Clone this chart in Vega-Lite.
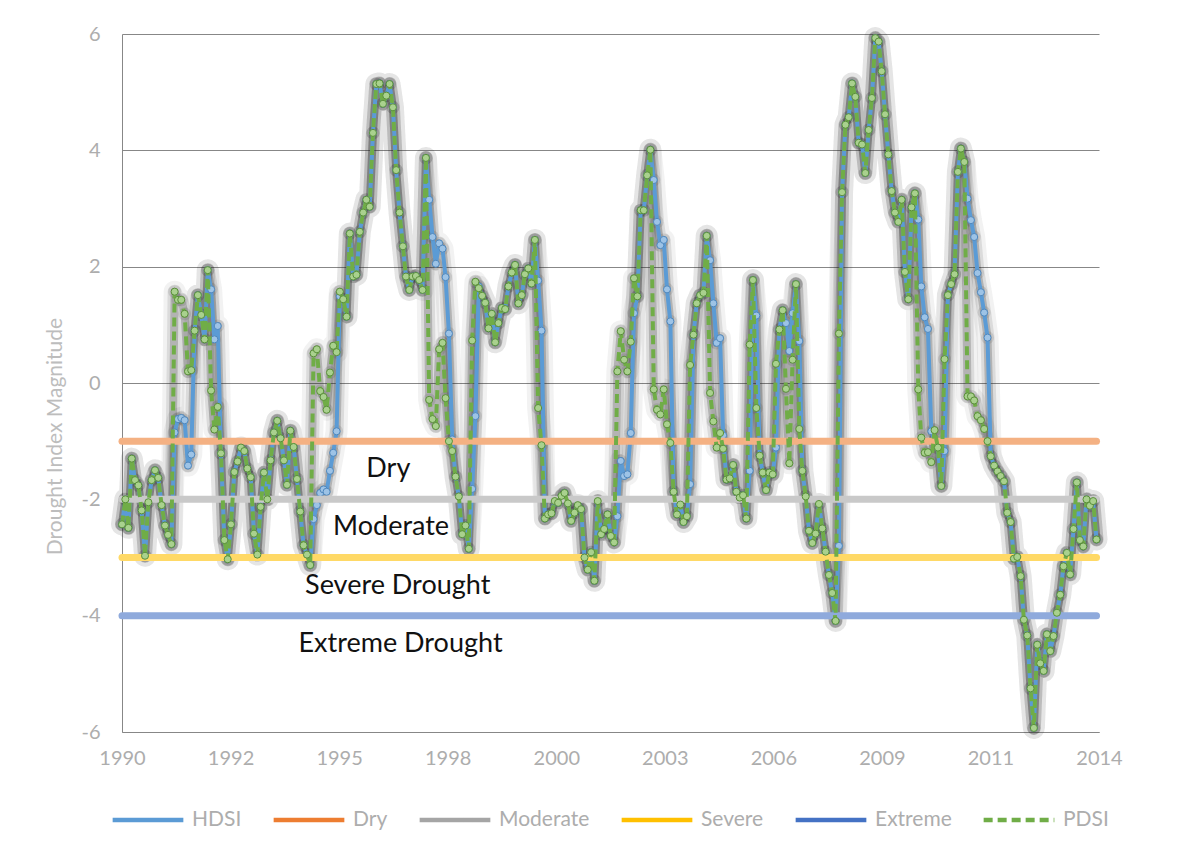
{
"$schema":"https://vega.github.io/schema/vega-lite/v6.json",
"width":977,"height":698,
"autosize":{"type":"none"},
"padding":{"left":122,"top":34,"right":86,"bottom":120},
"background":"white",
"config":{"font":"Lato","view":{"stroke":null}},
"datasets":{
"main":[
{"date":"1990-01-01T00:00","HDSI":-2.43,"PDSI":-2.43},{"date":"1990-02-01T00:00","HDSI":-2.00,"PDSI":-2.00},{"date":"1990-03-01T00:00","HDSI":-2.49,"PDSI":-2.49},{"date":"1990-04-01T00:00","HDSI":-1.30,"PDSI":-1.30},{"date":"1990-05-01T00:00","HDSI":-1.67,"PDSI":-1.67},{"date":"1990-06-01T00:00","HDSI":-1.76,"PDSI":-1.76},{"date":"1990-07-01T00:00","HDSI":-2.19,"PDSI":-2.19},{"date":"1990-08-01T00:00","HDSI":-2.97,"PDSI":-2.97},{"date":"1990-09-01T00:00","HDSI":-2.05,"PDSI":-2.05},{"date":"1990-10-01T00:00","HDSI":-1.67,"PDSI":-1.67},{"date":"1990-11-01T00:00","HDSI":-1.50,"PDSI":-1.50},{"date":"1990-12-01T00:00","HDSI":-1.63,"PDSI":-1.63},
{"date":"1991-01-01T00:00","HDSI":-2.10,"PDSI":-2.10},{"date":"1991-02-01T00:00","HDSI":-2.45,"PDSI":-2.45},{"date":"1991-03-01T00:00","HDSI":-2.61,"PDSI":-2.61},{"date":"1991-04-01T00:00","HDSI":-2.77,"PDSI":-2.77},{"date":"1991-05-01T00:00","HDSI":-0.85,"PDSI":1.57},{"date":"1991-06-01T00:00","HDSI":-0.62,"PDSI":1.43},{"date":"1991-07-01T00:00","HDSI":-0.60,"PDSI":1.43},{"date":"1991-08-01T00:00","HDSI":-0.64,"PDSI":1.19},{"date":"1991-09-01T00:00","HDSI":-1.42,"PDSI":0.20},{"date":"1991-10-01T00:00","HDSI":-1.23,"PDSI":0.22},{"date":"1991-11-01T00:00","HDSI":0.90,"PDSI":0.90},{"date":"1991-12-01T00:00","HDSI":1.51,"PDSI":1.51},
{"date":"1992-01-01T00:00","HDSI":1.17,"PDSI":1.17},{"date":"1992-02-01T00:00","HDSI":0.75,"PDSI":0.75},{"date":"1992-03-01T00:00","HDSI":1.94,"PDSI":1.94},{"date":"1992-04-01T00:00","HDSI":1.61,"PDSI":-0.13},{"date":"1992-05-01T00:00","HDSI":0.75,"PDSI":-0.80},{"date":"1992-06-01T00:00","HDSI":0.98,"PDSI":-0.41},{"date":"1992-07-01T00:00","HDSI":-1.21,"PDSI":-1.21},{"date":"1992-08-01T00:00","HDSI":-2.70,"PDSI":-2.70},{"date":"1992-09-01T00:00","HDSI":-3.03,"PDSI":-3.03},{"date":"1992-10-01T00:00","HDSI":-2.43,"PDSI":-2.43},{"date":"1992-11-01T00:00","HDSI":-1.53,"PDSI":-1.53},{"date":"1992-12-01T00:00","HDSI":-1.35,"PDSI":-1.35},
{"date":"1993-01-01T00:00","HDSI":-1.11,"PDSI":-1.11},{"date":"1993-02-01T00:00","HDSI":-1.17,"PDSI":-1.17},{"date":"1993-03-01T00:00","HDSI":-1.47,"PDSI":-1.47},{"date":"1993-04-01T00:00","HDSI":-1.62,"PDSI":-1.62},{"date":"1993-05-01T00:00","HDSI":-2.59,"PDSI":-2.59},{"date":"1993-06-01T00:00","HDSI":-2.95,"PDSI":-2.95},{"date":"1993-07-01T00:00","HDSI":-2.13,"PDSI":-2.13},{"date":"1993-08-01T00:00","HDSI":-1.54,"PDSI":-1.54},{"date":"1993-09-01T00:00","HDSI":-2.00,"PDSI":-2.00},{"date":"1993-10-01T00:00","HDSI":-1.33,"PDSI":-1.33},{"date":"1993-11-01T00:00","HDSI":-0.85,"PDSI":-0.85},{"date":"1993-12-01T00:00","HDSI":-0.65,"PDSI":-0.65},
{"date":"1994-01-01T00:00","HDSI":-0.95,"PDSI":-0.95},{"date":"1994-02-01T00:00","HDSI":-1.33,"PDSI":-1.33},{"date":"1994-03-01T00:00","HDSI":-1.75,"PDSI":-1.75},{"date":"1994-04-01T00:00","HDSI":-0.82,"PDSI":-0.82},{"date":"1994-05-01T00:00","HDSI":-1.10,"PDSI":-1.10},{"date":"1994-06-01T00:00","HDSI":-1.65,"PDSI":-1.65},{"date":"1994-07-01T00:00","HDSI":-2.21,"PDSI":-2.21},{"date":"1994-08-01T00:00","HDSI":-2.79,"PDSI":-2.79},{"date":"1994-09-01T00:00","HDSI":-2.95,"PDSI":-2.95},{"date":"1994-10-01T00:00","HDSI":-3.13,"PDSI":-3.13},{"date":"1994-11-01T00:00","HDSI":-2.34,"PDSI":0.51},{"date":"1994-12-01T00:00","HDSI":-2.10,"PDSI":0.58},
{"date":"1995-01-01T00:00","HDSI":-1.89,"PDSI":-0.14},{"date":"1995-02-01T00:00","HDSI":-1.83,"PDSI":-0.24},{"date":"1995-03-01T00:00","HDSI":-1.87,"PDSI":-0.46},{"date":"1995-04-01T00:00","HDSI":-1.51,"PDSI":0.18},{"date":"1995-05-01T00:00","HDSI":-1.20,"PDSI":0.64},{"date":"1995-06-01T00:00","HDSI":-0.83,"PDSI":0.53},{"date":"1995-07-01T00:00","HDSI":1.49,"PDSI":1.57},{"date":"1995-08-01T00:00","HDSI":1.44,"PDSI":1.44},{"date":"1995-09-01T00:00","HDSI":1.14,"PDSI":1.14},{"date":"1995-10-01T00:00","HDSI":2.57,"PDSI":2.57},{"date":"1995-11-01T00:00","HDSI":1.83,"PDSI":1.83},{"date":"1995-12-01T00:00","HDSI":1.86,"PDSI":1.86},
{"date":"1996-01-01T00:00","HDSI":2.60,"PDSI":2.60},{"date":"1996-02-01T00:00","HDSI":2.93,"PDSI":2.93},{"date":"1996-03-01T00:00","HDSI":3.15,"PDSI":3.15},{"date":"1996-04-01T00:00","HDSI":3.03,"PDSI":3.03},{"date":"1996-05-01T00:00","HDSI":4.30,"PDSI":4.30},{"date":"1996-06-01T00:00","HDSI":5.14,"PDSI":5.14},{"date":"1996-07-01T00:00","HDSI":5.15,"PDSI":5.15},{"date":"1996-08-01T00:00","HDSI":4.80,"PDSI":4.80},{"date":"1996-09-01T00:00","HDSI":4.94,"PDSI":4.94},{"date":"1996-10-01T00:00","HDSI":5.14,"PDSI":5.14},{"date":"1996-11-01T00:00","HDSI":4.74,"PDSI":4.74},{"date":"1996-12-01T00:00","HDSI":3.66,"PDSI":3.66},
{"date":"1997-01-01T00:00","HDSI":2.93,"PDSI":2.93},{"date":"1997-02-01T00:00","HDSI":2.35,"PDSI":2.35},{"date":"1997-03-01T00:00","HDSI":1.83,"PDSI":1.83},{"date":"1997-04-01T00:00","HDSI":1.60,"PDSI":1.60},{"date":"1997-05-01T00:00","HDSI":1.83,"PDSI":1.83},{"date":"1997-06-01T00:00","HDSI":1.84,"PDSI":1.84},{"date":"1997-07-01T00:00","HDSI":1.77,"PDSI":1.77},{"date":"1997-08-01T00:00","HDSI":1.60,"PDSI":1.60},{"date":"1997-09-01T00:00","HDSI":3.87,"PDSI":3.87},{"date":"1997-10-01T00:00","HDSI":3.15,"PDSI":-0.29},{"date":"1997-11-01T00:00","HDSI":2.51,"PDSI":-0.62},{"date":"1997-12-01T00:00","HDSI":2.05,"PDSI":-0.74},
{"date":"1998-01-01T00:00","HDSI":2.40,"PDSI":0.58},{"date":"1998-02-01T00:00","HDSI":2.31,"PDSI":0.69},{"date":"1998-03-01T00:00","HDSI":1.82,"PDSI":-0.26},{"date":"1998-04-01T00:00","HDSI":0.85,"PDSI":-1.00},{"date":"1998-05-01T00:00","HDSI":-0.97,"PDSI":-1.17},{"date":"1998-06-01T00:00","HDSI":-1.61,"PDSI":-1.61},{"date":"1998-07-01T00:00","HDSI":-1.95,"PDSI":-1.95},{"date":"1998-08-01T00:00","HDSI":-2.60,"PDSI":-2.60},{"date":"1998-09-01T00:00","HDSI":-2.45,"PDSI":-2.45},{"date":"1998-10-01T00:00","HDSI":-2.85,"PDSI":-2.85},{"date":"1998-11-01T00:00","HDSI":-1.82,"PDSI":0.73},{"date":"1998-12-01T00:00","HDSI":-0.57,"PDSI":1.74},
{"date":"1999-01-01T00:00","HDSI":1.66,"PDSI":1.63},{"date":"1999-02-01T00:00","HDSI":1.50,"PDSI":1.50},{"date":"1999-03-01T00:00","HDSI":1.38,"PDSI":1.38},{"date":"1999-04-01T00:00","HDSI":0.94,"PDSI":0.94},{"date":"1999-05-01T00:00","HDSI":1.19,"PDSI":1.19},{"date":"1999-06-01T00:00","HDSI":0.70,"PDSI":0.70},{"date":"1999-07-01T00:00","HDSI":1.03,"PDSI":1.03},{"date":"1999-08-01T00:00","HDSI":1.29,"PDSI":1.29},{"date":"1999-09-01T00:00","HDSI":1.27,"PDSI":1.27},{"date":"1999-10-01T00:00","HDSI":1.66,"PDSI":1.66},{"date":"1999-11-01T00:00","HDSI":1.90,"PDSI":1.90},{"date":"1999-12-01T00:00","HDSI":2.03,"PDSI":2.03},
{"date":"2000-01-01T00:00","HDSI":1.37,"PDSI":1.37},{"date":"2000-02-01T00:00","HDSI":1.51,"PDSI":1.51},{"date":"2000-03-01T00:00","HDSI":1.87,"PDSI":1.87},{"date":"2000-04-01T00:00","HDSI":1.97,"PDSI":1.97},{"date":"2000-05-01T00:00","HDSI":1.71,"PDSI":1.71},{"date":"2000-06-01T00:00","HDSI":2.46,"PDSI":2.46},{"date":"2000-07-01T00:00","HDSI":1.76,"PDSI":-0.43},{"date":"2000-08-01T00:00","HDSI":0.90,"PDSI":-1.07},{"date":"2000-09-01T00:00","HDSI":-2.33,"PDSI":-2.33},{"date":"2000-10-01T00:00","HDSI":-2.26,"PDSI":-2.26},{"date":"2000-11-01T00:00","HDSI":-2.24,"PDSI":-2.24},{"date":"2000-12-01T00:00","HDSI":-2.03,"PDSI":-2.03},
{"date":"2001-01-01T00:00","HDSI":-2.06,"PDSI":-2.06},{"date":"2001-02-01T00:00","HDSI":-1.94,"PDSI":-1.94},{"date":"2001-03-01T00:00","HDSI":-1.89,"PDSI":-1.89},{"date":"2001-04-01T00:00","HDSI":-2.07,"PDSI":-2.07},{"date":"2001-05-01T00:00","HDSI":-2.37,"PDSI":-2.37},{"date":"2001-06-01T00:00","HDSI":-2.23,"PDSI":-2.23},{"date":"2001-07-01T00:00","HDSI":-2.10,"PDSI":-2.10},{"date":"2001-08-01T00:00","HDSI":-2.17,"PDSI":-2.17},{"date":"2001-09-01T00:00","HDSI":-3.00,"PDSI":-3.00},{"date":"2001-10-01T00:00","HDSI":-3.21,"PDSI":-3.21},{"date":"2001-11-01T00:00","HDSI":-2.91,"PDSI":-2.91},{"date":"2001-12-01T00:00","HDSI":-3.40,"PDSI":-3.40},
{"date":"2002-01-01T00:00","HDSI":-2.03,"PDSI":-2.03},{"date":"2002-02-01T00:00","HDSI":-2.60,"PDSI":-2.60},{"date":"2002-03-01T00:00","HDSI":-2.51,"PDSI":-2.51},{"date":"2002-04-01T00:00","HDSI":-2.26,"PDSI":-2.26},{"date":"2002-05-01T00:00","HDSI":-2.63,"PDSI":-2.63},{"date":"2002-06-01T00:00","HDSI":-2.74,"PDSI":-2.74},{"date":"2002-07-01T00:00","HDSI":-2.29,"PDSI":0.20},{"date":"2002-08-01T00:00","HDSI":-1.34,"PDSI":0.89},{"date":"2002-09-01T00:00","HDSI":-1.60,"PDSI":0.40},{"date":"2002-10-01T00:00","HDSI":-1.57,"PDSI":0.20},{"date":"2002-11-01T00:00","HDSI":-0.86,"PDSI":0.71},{"date":"2002-12-01T00:00","HDSI":1.20,"PDSI":1.80},
{"date":"2003-01-01T00:00","HDSI":1.49,"PDSI":1.49},{"date":"2003-02-01T00:00","HDSI":2.97,"PDSI":2.97},{"date":"2003-03-01T00:00","HDSI":2.97,"PDSI":2.97},{"date":"2003-04-01T00:00","HDSI":3.57,"PDSI":3.57},{"date":"2003-05-01T00:00","HDSI":4.01,"PDSI":4.01},{"date":"2003-06-01T00:00","HDSI":3.49,"PDSI":-0.11},{"date":"2003-07-01T00:00","HDSI":2.77,"PDSI":-0.46},{"date":"2003-08-01T00:00","HDSI":2.37,"PDSI":-0.54},{"date":"2003-09-01T00:00","HDSI":2.46,"PDSI":-0.11},{"date":"2003-10-01T00:00","HDSI":1.61,"PDSI":-0.71},{"date":"2003-11-01T00:00","HDSI":1.06,"PDSI":-1.03},{"date":"2003-12-01T00:00","HDSI":-1.87,"PDSI":-1.87},
{"date":"2004-01-01T00:00","HDSI":-2.26,"PDSI":-2.26},{"date":"2004-02-01T00:00","HDSI":-2.09,"PDSI":-2.09},{"date":"2004-03-01T00:00","HDSI":-2.39,"PDSI":-2.39},{"date":"2004-04-01T00:00","HDSI":-2.29,"PDSI":-2.29},{"date":"2004-05-01T00:00","HDSI":-1.74,"PDSI":0.31},{"date":"2004-06-01T00:00","HDSI":0.83,"PDSI":0.83},{"date":"2004-07-01T00:00","HDSI":1.37,"PDSI":1.37},{"date":"2004-08-01T00:00","HDSI":1.51,"PDSI":1.51},{"date":"2004-09-01T00:00","HDSI":1.55,"PDSI":1.55},{"date":"2004-10-01T00:00","HDSI":2.53,"PDSI":2.53},{"date":"2004-11-01T00:00","HDSI":2.11,"PDSI":-0.17},{"date":"2004-12-01T00:00","HDSI":1.37,"PDSI":-0.66},
{"date":"2005-01-01T00:00","HDSI":0.69,"PDSI":-1.11},{"date":"2005-02-01T00:00","HDSI":0.77,"PDSI":-0.86},{"date":"2005-03-01T00:00","HDSI":-0.90,"PDSI":-1.13},{"date":"2005-04-01T00:00","HDSI":-1.66,"PDSI":-1.66},{"date":"2005-05-01T00:00","HDSI":-1.64,"PDSI":-1.64},{"date":"2005-06-01T00:00","HDSI":-1.41,"PDSI":-1.41},{"date":"2005-07-01T00:00","HDSI":-1.87,"PDSI":-1.87},{"date":"2005-08-01T00:00","HDSI":-1.97,"PDSI":-1.97},{"date":"2005-09-01T00:00","HDSI":-1.93,"PDSI":-1.93},{"date":"2005-10-01T00:00","HDSI":-2.33,"PDSI":-2.33},{"date":"2005-11-01T00:00","HDSI":-1.51,"PDSI":0.66},{"date":"2005-12-01T00:00","HDSI":1.77,"PDSI":1.77},
{"date":"2006-01-01T00:00","HDSI":1.16,"PDSI":-0.43},{"date":"2006-02-01T00:00","HDSI":-1.25,"PDSI":-1.25},{"date":"2006-03-01T00:00","HDSI":-1.54,"PDSI":-1.54},{"date":"2006-04-01T00:00","HDSI":-1.84,"PDSI":-1.84},{"date":"2006-05-01T00:00","HDSI":-1.54,"PDSI":-1.54},{"date":"2006-06-01T00:00","HDSI":-1.57,"PDSI":-1.57},{"date":"2006-07-01T00:00","HDSI":-1.11,"PDSI":0.33},{"date":"2006-08-01T00:00","HDSI":0.92,"PDSI":0.92},{"date":"2006-09-01T00:00","HDSI":1.25,"PDSI":1.25},{"date":"2006-10-01T00:00","HDSI":1.03,"PDSI":-0.10},{"date":"2006-11-01T00:00","HDSI":0.55,"PDSI":-1.38},{"date":"2006-12-01T00:00","HDSI":1.20,"PDSI":0.40},
{"date":"2007-01-01T00:00","HDSI":1.70,"PDSI":1.70},{"date":"2007-02-01T00:00","HDSI":0.72,"PDSI":-0.79},{"date":"2007-03-01T00:00","HDSI":-1.51,"PDSI":-1.51},{"date":"2007-04-01T00:00","HDSI":-1.95,"PDSI":-1.95},{"date":"2007-05-01T00:00","HDSI":-2.54,"PDSI":-2.54},{"date":"2007-06-01T00:00","HDSI":-2.75,"PDSI":-2.75},{"date":"2007-07-01T00:00","HDSI":-2.59,"PDSI":-2.59},{"date":"2007-08-01T00:00","HDSI":-2.08,"PDSI":-2.08},{"date":"2007-09-01T00:00","HDSI":-2.50,"PDSI":-2.50},{"date":"2007-10-01T00:00","HDSI":-2.90,"PDSI":-2.90},{"date":"2007-11-01T00:00","HDSI":-3.30,"PDSI":-3.30},{"date":"2007-12-01T00:00","HDSI":-3.61,"PDSI":-3.61},
{"date":"2008-01-01T00:00","HDSI":-4.09,"PDSI":-4.09},{"date":"2008-02-01T00:00","HDSI":-2.80,"PDSI":0.85},{"date":"2008-03-01T00:00","HDSI":3.28,"PDSI":3.28},{"date":"2008-04-01T00:00","HDSI":4.44,"PDSI":4.44},{"date":"2008-05-01T00:00","HDSI":4.57,"PDSI":4.57},{"date":"2008-06-01T00:00","HDSI":5.15,"PDSI":5.15},{"date":"2008-07-01T00:00","HDSI":4.92,"PDSI":4.92},{"date":"2008-08-01T00:00","HDSI":4.13,"PDSI":4.13},{"date":"2008-09-01T00:00","HDSI":4.10,"PDSI":4.10},{"date":"2008-10-01T00:00","HDSI":3.61,"PDSI":3.61},{"date":"2008-11-01T00:00","HDSI":4.35,"PDSI":4.35},{"date":"2008-12-01T00:00","HDSI":4.90,"PDSI":4.90},
{"date":"2009-01-01T00:00","HDSI":5.93,"PDSI":5.93},{"date":"2009-02-01T00:00","HDSI":5.87,"PDSI":5.87},{"date":"2009-03-01T00:00","HDSI":5.36,"PDSI":5.36},{"date":"2009-04-01T00:00","HDSI":4.62,"PDSI":4.62},{"date":"2009-05-01T00:00","HDSI":3.93,"PDSI":3.93},{"date":"2009-06-01T00:00","HDSI":3.30,"PDSI":3.30},{"date":"2009-07-01T00:00","HDSI":2.93,"PDSI":2.93},{"date":"2009-08-01T00:00","HDSI":2.77,"PDSI":2.77},{"date":"2009-09-01T00:00","HDSI":3.15,"PDSI":3.15},{"date":"2009-10-01T00:00","HDSI":1.91,"PDSI":1.91},{"date":"2009-11-01T00:00","HDSI":1.44,"PDSI":1.44},{"date":"2009-12-01T00:00","HDSI":3.02,"PDSI":3.02},
{"date":"2010-01-01T00:00","HDSI":3.26,"PDSI":3.26},{"date":"2010-02-01T00:00","HDSI":2.81,"PDSI":-0.11},{"date":"2010-03-01T00:00","HDSI":1.66,"PDSI":-0.94},{"date":"2010-04-01T00:00","HDSI":1.13,"PDSI":-1.20},{"date":"2010-05-01T00:00","HDSI":0.93,"PDSI":-1.19},{"date":"2010-06-01T00:00","HDSI":-0.83,"PDSI":-1.36},{"date":"2010-07-01T00:00","HDSI":-1.00,"PDSI":-0.81},{"date":"2010-08-01T00:00","HDSI":-1.11,"PDSI":-1.11},{"date":"2010-09-01T00:00","HDSI":-1.77,"PDSI":-1.77},{"date":"2010-10-01T00:00","HDSI":-1.17,"PDSI":0.41},{"date":"2010-11-01T00:00","HDSI":1.51,"PDSI":1.51},{"date":"2010-12-01T00:00","HDSI":1.70,"PDSI":1.70},
{"date":"2011-01-01T00:00","HDSI":1.87,"PDSI":1.87},{"date":"2011-02-01T00:00","HDSI":3.63,"PDSI":3.63},{"date":"2011-03-01T00:00","HDSI":4.03,"PDSI":4.03},{"date":"2011-04-01T00:00","HDSI":3.80,"PDSI":3.80},{"date":"2011-05-01T00:00","HDSI":3.17,"PDSI":-0.23},{"date":"2011-06-01T00:00","HDSI":2.80,"PDSI":-0.23},{"date":"2011-07-01T00:00","HDSI":2.51,"PDSI":-0.30},{"date":"2011-08-01T00:00","HDSI":1.89,"PDSI":-0.57},{"date":"2011-09-01T00:00","HDSI":1.56,"PDSI":-0.64},{"date":"2011-10-01T00:00","HDSI":1.21,"PDSI":-0.79},{"date":"2011-11-01T00:00","HDSI":0.78,"PDSI":-1.00},{"date":"2011-12-01T00:00","HDSI":-1.26,"PDSI":-1.26},
{"date":"2012-01-01T00:00","HDSI":-1.42,"PDSI":-1.42},{"date":"2012-02-01T00:00","HDSI":-1.52,"PDSI":-1.52},{"date":"2012-03-01T00:00","HDSI":-1.60,"PDSI":-1.60},{"date":"2012-04-01T00:00","HDSI":-1.69,"PDSI":-1.69},{"date":"2012-05-01T00:00","HDSI":-2.23,"PDSI":-2.23},{"date":"2012-06-01T00:00","HDSI":-2.39,"PDSI":-2.39},{"date":"2012-07-01T00:00","HDSI":-3.02,"PDSI":-3.02},{"date":"2012-08-01T00:00","HDSI":-2.99,"PDSI":-2.99},{"date":"2012-09-01T00:00","HDSI":-3.32,"PDSI":-3.32},{"date":"2012-10-01T00:00","HDSI":-4.07,"PDSI":-4.07},{"date":"2012-11-01T00:00","HDSI":-4.34,"PDSI":-4.34},{"date":"2012-12-01T00:00","HDSI":-5.25,"PDSI":-5.25},
{"date":"2013-01-01T00:00","HDSI":-5.93,"PDSI":-5.93},{"date":"2013-02-01T00:00","HDSI":-4.50,"PDSI":-4.50},{"date":"2013-03-01T00:00","HDSI":-4.82,"PDSI":-4.82},{"date":"2013-04-01T00:00","HDSI":-4.95,"PDSI":-4.95},{"date":"2013-05-01T00:00","HDSI":-4.32,"PDSI":-4.32},{"date":"2013-06-01T00:00","HDSI":-4.61,"PDSI":-4.61},{"date":"2013-07-01T00:00","HDSI":-4.35,"PDSI":-4.35},{"date":"2013-08-01T00:00","HDSI":-3.95,"PDSI":-3.95},{"date":"2013-09-01T00:00","HDSI":-3.64,"PDSI":-3.64},{"date":"2013-10-01T00:00","HDSI":-3.15,"PDSI":-3.15},{"date":"2013-11-01T00:00","HDSI":-2.92,"PDSI":-2.92},{"date":"2013-12-01T00:00","HDSI":-3.29,"PDSI":-3.29},
{"date":"2014-01-01T00:00","HDSI":-2.51,"PDSI":-2.51},{"date":"2014-02-01T00:00","HDSI":-1.71,"PDSI":-1.71},{"date":"2014-03-01T00:00","HDSI":-2.70,"PDSI":-2.70},{"date":"2014-04-01T00:00","HDSI":-2.81,"PDSI":-2.81},{"date":"2014-05-01T00:00","HDSI":-2.00,"PDSI":-2.00},{"date":"2014-06-01T00:00","HDSI":-2.11,"PDSI":-2.11},{"date":"2014-07-01T00:00","HDSI":-2.03,"PDSI":-2.03},{"date":"2014-08-01T00:00","HDSI":-2.69,"PDSI":-2.69}
],
"levels":[
{"series":"Dry","value":-1,"label":"Dry","start":"1990-01-01T00:00","end":"2014-08-01T00:00","at":"1996-09-20T00:00"},
{"series":"Moderate","value":-2,"label":"Moderate","start":"1990-01-01T00:00","end":"2014-08-01T00:00","at":"1996-10-15T00:00"},
{"series":"Severe","value":-3,"label":"Severe Drought","start":"1990-01-01T00:00","end":"2014-08-01T00:00","at":"1996-12-15T00:00"},
{"series":"Extreme","value":-4,"label":"Extreme Drought","start":"1990-01-01T00:00","end":"2014-08-01T00:00","at":"1997-01-10T00:00"}
]
},
"encoding":{
"x":{"field":"date","type":"temporal","title":null,
 "scale":{"domain":[{"year":1990,"month":1,"date":1},{"year":2014,"month":8,"date":24}]},
 "axis":{"values":[{"year":1990,"month":1,"date":1},{"year":1992,"month":9,"date":27},{"year":1995,"month":6,"date":24},{"year":1998,"month":3,"date":20},{"year":2000,"month":12,"date":15},{"year":2003,"month":9,"date":11},{"year":2006,"month":6,"date":7},{"year":2009,"month":3,"date":3},{"year":2011,"month":11,"date":28},{"year":2014,"month":8,"date":24}],
  "format":"%Y","grid":false,"ticks":false,"domain":true,"domainColor":"#878787","domainWidth":1,
  "labelFontSize":20,"labelColor":"#ADADAD","labelPadding":16,"labelFlush":false,"labelOverlap":false,"labelBound":false}},
"y":{"field":"value","type":"quantitative","title":"Drought Index Magnitude",
 "scale":{"domain":[-6,6],"nice":false,"zero":false},
 "axis":{"values":[-6,-4,-2,0,2,4,6],"labelExpr":"replace(datum.label, '\u2212', '-')","grid":true,"gridColor":"#878787","gridWidth":1,"ticks":false,"domain":true,"domainColor":"#878787",
  "labelFontSize":20,"labelColor":"#ADADAD","labelPadding":22,
  "titleFontSize":21,"titleColor":"#BDBDBD","titleFontWeight":"normal","titleX":-67,"titleY":402,"titleAlign":"center","titleBaseline":"middle","titleAngle":270}}
},
"layer":[
{"data":{"name":"main"},"transform":[{"fold":["HDSI","PDSI"],"as":["series","value"]}],
 "mark":{"type":"line","color":"#262626","strokeWidth":22,"opacity":0.06,"strokeJoin":"round","strokeCap":"round"},
 "encoding":{"detail":{"field":"series"}}},
{"data":{"name":"main"},"transform":[{"fold":["HDSI","PDSI"],"as":["series","value"]}],
 "mark":{"type":"line","color":"#262626","strokeWidth":14,"opacity":0.11,"strokeJoin":"round","strokeCap":"round"},
 "encoding":{"detail":{"field":"series"}}},
{"data":{"name":"main"},"transform":[{"fold":["HDSI","PDSI"],"as":["series","value"]}],
 "mark":{"type":"line","color":"#262626","strokeWidth":8,"opacity":0.22,"strokeJoin":"round","strokeCap":"round"},
 "encoding":{"detail":{"field":"series"}}},
{"data":{"name":"main"},"transform":[{"fold":["HDSI","PDSI"],"as":["series","value"]}],
 "mark":{"type":"point","filled":true,"size":170,"color":"#262626","opacity":0.11,"strokeWidth":0}},
{"data":{"name":"main"},"transform":[{"fold":["HDSI","PDSI"],"as":["series","value"]},{"filter":{"field":"series","equal":"HDSI"}}],
 "mark":{"type":"line","strokeWidth":4,"strokeJoin":"round"},
 "encoding":{
  "color":{"field":"series","type":"nominal","scale":{"domain":["HDSI","Dry","Moderate","Severe","Extreme","PDSI"],"range":["#5B9BD5","#ED7D31","#A5A5A5","#FFC000","#4472C4","#70AD47"]},
   "legend":{"title":null,"orient":"none","legendX":-12,"legendY":748,"direction":"horizontal","gridAlign":"none","symbolType":"stroke","symbolSize":5000,"symbolStrokeWidth":4.5,"symbolOpacity":1,"labelFontSize":21,"labelColor":"#ADADAD","columnPadding":22,"labelOffset":6,"symbolLimit":0}},
  "strokeDash":{"field":"series","type":"nominal","scale":{"domain":["HDSI","Dry","Moderate","Severe","Extreme","PDSI"],"range":[[1,0],[1,0],[1,0],[1,0],[1,0],[9,5]]},
   "legend":{"title":null,"orient":"none","legendX":-12,"legendY":748,"direction":"horizontal","gridAlign":"none","symbolType":"stroke","symbolSize":5000,"symbolStrokeWidth":4.5,"symbolOpacity":1,"labelFontSize":21,"labelColor":"#ADADAD","columnPadding":22,"labelOffset":6,"symbolLimit":0}}}},
{"data":{"name":"main"},"transform":[{"fold":["HDSI","PDSI"],"as":["series","value"]},{"filter":{"field":"series","equal":"HDSI"}}],
 "mark":{"type":"point","filled":true,"size":50,"strokeWidth":1,"opacity":1,"fill":"#9DC3E6","stroke":"#4F88BE"}},
{"data":{"name":"levels"},
 "mark":{"type":"rule","strokeWidth":7,"strokeCap":"round"},
 "encoding":{
  "x":{"field":"start","type":"temporal","title":null},
  "x2":{"field":"end"},
  "stroke":{"field":"series","type":"nominal","scale":{"domain":["Dry","Moderate","Severe","Extreme"],"range":["#F4B183","#C9C9C9","#FFD966","#8FAADC"]},"legend":null}}},
{"data":{"name":"main"},"transform":[{"fold":["HDSI","PDSI"],"as":["series","value"]},{"filter":{"field":"series","equal":"PDSI"}}],
 "mark":{"type":"line","strokeWidth":4,"strokeJoin":"round"},
 "encoding":{
  "color":{"field":"series","type":"nominal","scale":{"domain":["HDSI","Dry","Moderate","Severe","Extreme","PDSI"],"range":["#5B9BD5","#ED7D31","#A5A5A5","#FFC000","#4472C4","#70AD47"]},
   "legend":{"title":null,"orient":"none","legendX":-12,"legendY":748,"direction":"horizontal","gridAlign":"none","symbolType":"stroke","symbolSize":5000,"symbolStrokeWidth":4.5,"symbolOpacity":1,"labelFontSize":21,"labelColor":"#ADADAD","columnPadding":22,"labelOffset":6,"symbolLimit":0}},
  "strokeDash":{"field":"series","type":"nominal","scale":{"domain":["HDSI","Dry","Moderate","Severe","Extreme","PDSI"],"range":[[1,0],[1,0],[1,0],[1,0],[1,0],[9,5]]},
   "legend":{"title":null,"orient":"none","legendX":-12,"legendY":748,"direction":"horizontal","gridAlign":"none","symbolType":"stroke","symbolSize":5000,"symbolStrokeWidth":4.5,"symbolOpacity":1,"labelFontSize":21,"labelColor":"#ADADAD","columnPadding":22,"labelOffset":6,"symbolLimit":0}}}},
{"data":{"name":"main"},"transform":[{"fold":["HDSI","PDSI"],"as":["series","value"]},{"filter":{"field":"series","equal":"PDSI"}}],
 "mark":{"type":"point","filled":true,"size":50,"strokeWidth":1,"opacity":1,"fill":"#A9D18E","stroke":"#5A8F3A"}},
{"data":{"name":"levels"},
 "mark":{"type":"text","fontSize":27,"color":"#111111","dy":28,"align":"center","baseline":"middle"},
 "encoding":{"x":{"field":"at","type":"temporal","title":null},"text":{"field":"label","type":"nominal"}}}
]
}
